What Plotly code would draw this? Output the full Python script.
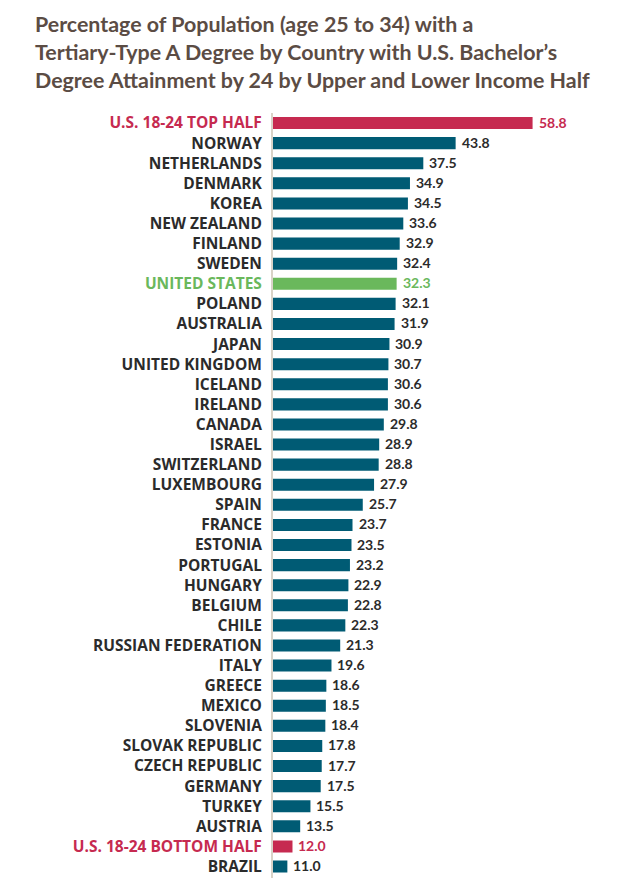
import plotly.graph_objects as go

countries = ["U.S. 18-24 TOP HALF", "NORWAY", "NETHERLANDS", "DENMARK", "KOREA", "NEW ZEALAND",
             "FINLAND", "SWEDEN", "UNITED STATES", "POLAND", "AUSTRALIA", "JAPAN", "UNITED KINGDOM",
             "ICELAND", "IRELAND", "CANADA", "ISRAEL", "SWITZERLAND", "LUXEMBOURG", "SPAIN", "FRANCE",
             "ESTONIA", "PORTUGAL", "HUNGARY", "BELGIUM", "CHILE", "RUSSIAN FEDERATION", "ITALY",
             "GREECE", "MEXICO", "SLOVENIA", "SLOVAK REPUBLIC", "CZECH REPUBLIC", "GERMANY", "TURKEY",
             "AUSTRIA", "U.S. 18-24 BOTTOM HALF", "BRAZIL"]
values = [58.8, 43.8, 37.5, 34.9, 34.5, 33.6, 32.9, 32.4, 32.3, 32.1, 31.9, 30.9, 30.7, 30.6, 30.6,
          29.8, 28.9, 28.8, 27.9, 25.7, 23.7, 23.5, 23.2, 22.9, 22.8, 22.3, 21.3, 19.6, 18.6, 18.5,
          18.4, 17.8, 17.7, 17.5, 15.5, 13.5, 12.0, 11.0]
highlight = {"U.S. 18-24 TOP HALF": "red", "U.S. 18-24 BOTTOM HALF": "red", "UNITED STATES": "green"}
title_text = ("Percentage of Population (age 25 to 34) with a<br>"
              "Tertiary-Type A Degree by Country with U.S. Bachelor’s<br>"
              "Degree Attainment by 24 by Upper and Lower Income Half")

TEAL = "#005b74"
RED = "#c62a50"
GREEN = "#6ab85c"
DARK = "#2b2b2b"
palette = {"red": RED, "green": GREEN}

bar_colors = [palette.get(highlight.get(c), TEAL) for c in countries]
text_colors = [palette.get(highlight.get(c), DARK) for c in countries]
ticktext = [f"<span style='color:{col}'>{c}</span>" for c, col in zip(countries, text_colors)]

# page body adds an 8px margin; figure is sized to fit inside the window
W, H = 607, 877
L, R, T, B = 265, 40, 105, 7
PW, PH = W - L - R, H - T - B

fig = go.Figure(go.Bar(
    x=values, y=countries, orientation="h",
    marker=dict(color=bar_colors, line=dict(width=0)),
    width=0.6, hoverinfo="x+y",
))

for c, v, col in zip(countries, values, text_colors):
    fig.add_annotation(
        x=v, y=c, xref="x", yref="y", text=f"{v:.1f}", showarrow=False,
        xanchor="left", yanchor="middle", xshift=4, yshift=1,
        font=dict(family="Lato", size=14, color=col, weight="bold"),
    )

fig.add_annotation(
    text=title_text, xref="paper", yref="paper",
    x=-(L - 25) / PW, y=1 + (T - 1) / PH, xanchor="left", yanchor="top", align="left",
    showarrow=False,
    font=dict(family="Lato", size=21.4, color="#5b4c44", weight="bold"),
)

fig.update_layout(
    width=W, height=H,
    margin=dict(l=L, r=R, t=T, b=B, autoexpand=False),
    plot_bgcolor="white", paper_bgcolor="white",
    showlegend=False,
    xaxis=dict(range=[8.2, 8.2 + PW / 5.13], showgrid=False, zeroline=False,
               showticklabels=False, ticks=""),
    yaxis=dict(categoryorder="array", categoryarray=countries, autorange="reversed",
               tickmode="array", tickvals=countries, ticktext=ticktext,
               tickfont=dict(family="Open Sans", size=15.5, color=DARK, weight="bold"),
               showline=True, linecolor="#d9d3c8", linewidth=2,
               ticks="outside", ticklen=6, tickcolor="rgba(0,0,0,0)",
               showgrid=False, zeroline=False, automargin=False),
    bargap=0.4,
)

fig.write_html("out.html")
